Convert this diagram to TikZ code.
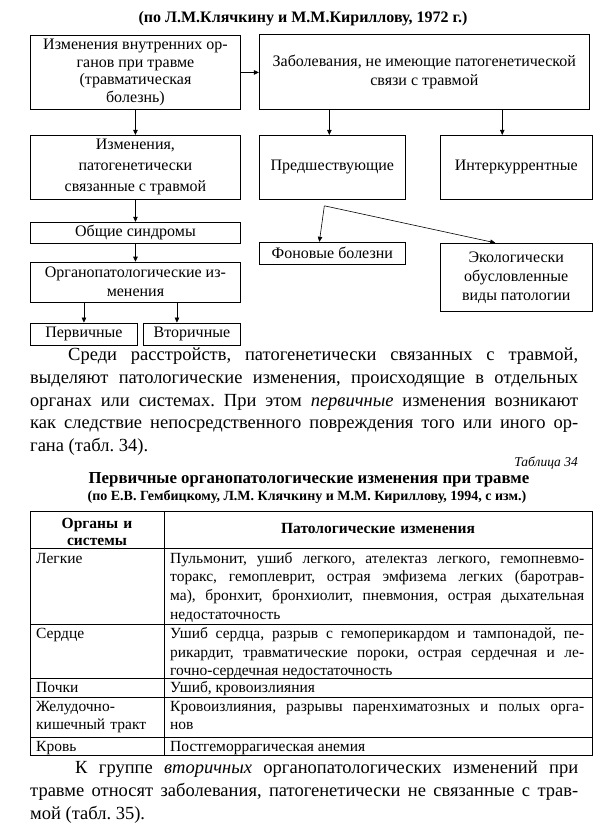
\documentclass[tikz,border=0pt]{standalone}
\usepackage{fontspec}
\setmainfont{Liberation Serif}
\usetikzlibrary{arrows.meta,positioning,calc}
\hyphenpenalty=10000
\exhyphenpenalty=10000
\emergencystretch=20pt
\frenchspacing
\tikzset{
  box/.style={draw=black,line width=0.9pt,align=center,inner sep=1pt,font=\fontsize{16}{19}\selectfont},
  arrow/.style={-{Triangle[length=5pt,width=4.5pt]},line width=0.6pt,draw=black},
  rule/.style={line width=0.8pt,draw=black},
  cell/.style={anchor=north west,inner xsep=6pt,inner ysep=2pt,align=justify,font=\fontsize{15.5}{18.6}\selectfont,execute at begin node=\strut},
  onecell/.style={anchor=base west,inner xsep=6pt,inner ysep=0pt,align=left,font=\fontsize{15.5}{18.6}\selectfont},
  para/.style={anchor=north west,inner sep=0pt,text width=548pt,align=justify,font=\fontsize{18.5}{22.7}\selectfont}
}
\begin{document}
\begin{tikzpicture}[x=1pt,y=-1pt,node distance=18pt]
    \useasboundingbox[fill=white] (0,0) rectangle (607,824);
    % схема
    \node[font=\fontsize{16}{19}\selectfont\bfseries] (title) at (303,19) {(по Л.М.Клячкину и М.М.Кириллову, 1972 г.)};
    \node[box,anchor=north west,minimum width=210pt,minimum height=74pt,font=\fontsize{16}{17.5}\selectfont] (trauma) at (30,35) {Изменения внутренних ор-\\ганов при травме\\(травматическая\\болезнь)};
    \node[box,right=of trauma,minimum width=330pt,minimum height=75pt] (other) {Заболевания, не имеющие патогенетической\\связи с травмой};
    \node[box,below=25pt of trauma,minimum width=210pt,minimum height=64pt,font=\fontsize{16}{21}\selectfont] (orgch) {Изменения,\\патогенетически\\связанные с травмой};
    \node[box,right=of orgch,minimum width=146pt,minimum height=64pt] (prev) {Предшествующие};
    \node[box,right=34pt of prev,minimum width=152pt,minimum height=64pt] (interc) {Интеркуррентные};
    \node[box,below=22pt of orgch,minimum width=210pt,minimum height=21pt] (synd) {Общие синдромы};
    \node[box,below=18pt of synd,minimum width=210pt,minimum height=40pt] (organ) {Органопатологические из-\\менения};
    \node[box,below=20pt of organ.south west,anchor=north west,minimum width=107pt,minimum height=22pt] (prim) {Первичные};
    \node[box,below=20pt of organ.south east,anchor=north east,minimum width=97pt,minimum height=22pt] (second) {Вторичные};
    \node[box,below=42pt of prev.south west,anchor=north west,minimum width=146pt,minimum height=22pt] (backgr) {Фоновые болезни};
    \node[box,below=43pt of interc.south west,anchor=north west,minimum width=152pt,minimum height=68pt] (ecol) {Экологически\\обусловленные\\виды патологии};
    \coordinate (fork) at ([xshift=-8pt,yshift=-6pt]prev.south);
    \draw[arrow] (trauma) -- (other);
    \draw[arrow] (trauma) -- (orgch);
    \draw[arrow] ([xshift=-3pt]prev.north |- other.south) -- ([xshift=-3pt]prev.north);
    \draw[arrow] ([xshift=-14pt]interc.north |- other.south) -- ([xshift=-14pt]interc.north);
    \draw[arrow] (orgch) -- (synd);
    \draw[arrow] (synd) -- (organ);
    \draw[arrow] (organ.south -| prim) -- (prim);
    \draw[arrow] ([xshift=-15pt]second.north |- organ.south) -- ([xshift=-15pt]second.north);
    \draw[arrow] (fork) -- ([xshift=-13pt]backgr.north);
    \draw[arrow] (fork) -- ([xshift=-21pt]ecol.north);
    % текст
    \node[para] (text1) at (30,348) {\hspace*{38pt}Среди расстройств, патогенетически связанных с травмой,\linebreak выделяют патологические изменения, происходящие в отдельных\linebreak органах или системах. При этом \textit{первичные} изменения возникают\linebreak как следствие непосредственного повреждения того или иного ор-\linebreak гана (табл. 34).};
    \node[anchor=east,inner sep=0pt,font=\fontsize{13.5}{16}\selectfont\itshape] (tabno) at (578,463) {Таблица 34};
    \node[font=\fontsize{16.8}{19}\selectfont\bfseries] (tabtitle) at (309,480) {Первичные органопатологические изменения при травме};
    \node[font=\fontsize{14}{16}\selectfont\bfseries] (tabsub) at (307,497) {(по Е.В. Гембицкому, Л.М. Клячкину и М.М. Кириллову, 1994, с изм.)};
    % таблица
    \draw[rule] (30,511) rectangle (592,755);
    \draw[rule] (164,511) -- (164,755);
    \foreach \y in {548,624,678,697,737}
      \draw[rule] (30,\y) -- (592,\y);
    \node[cell,anchor=center,align=center,text width=122pt,font=\fontsize{15.5}{17}\selectfont\bfseries,execute at begin node={}] (hd1) at (97,531) {Органы и\\системы};
    \node[cell,anchor=center,align=center,text width=414pt,font=\fontsize{15.5}{17}\selectfont\bfseries,execute at begin node={}] (hd2) at (378,530) {Патологические изменения};
    \node[cell,align=left,text width=122pt] (lung) at (30,548) {Легкие};
    \node[cell,text width=414pt] (lungtx) at (164,548) {Пульмонит, ушиб легкого, ателектаз легкого, гемопневмо-\linebreak торакс, гемоплеврит, острая эмфизема легких (баротрав-\linebreak ма), бронхит, бронхиолит, пневмония, острая дыхательная\linebreak недостаточность};
    \node[cell,align=left,text width=122pt,inner ysep=1.5pt] (heart) at (30,624) {Сердце};
    \node[cell,text width=414pt,inner ysep=1.5pt] (hearttx) at (164,624) {Ушиб сердца, разрыв с гемоперикардом и тампонадой, пе-\linebreak рикардит, травматические пороки, острая сердечная и ле-\linebreak гочно-сердечная недостаточность};
    \node[onecell] (kidney) at (30,692.5) {Почки};
    \node[onecell] (kidneytx) at (164,692.5) {Ушиб, кровоизлияния};
    \node[cell,align=left,text width=122pt,inner ysep=1pt] (gut) at (30,697) {Желудочно-\\кишечный тракт};
    \node[cell,text width=414pt,inner ysep=1pt] (guttx) at (164,697) {Кровоизлияния, разрывы паренхиматозных и полых орга-\linebreak нов};
    \node[onecell] (blood) at (30,751) {Кровь};
    \node[onecell] (bloodtx) at (164,751) {Постгеморрагическая анемия};
    \node[para] (text2) at (30,761) {\hspace*{45pt}К группе \textit{вторичных} органопатологических изменений при\linebreak травме относят заболевания, патогенетически не связанные с трав-\linebreak мой (табл. 35).};
\end{tikzpicture}
\end{document}
